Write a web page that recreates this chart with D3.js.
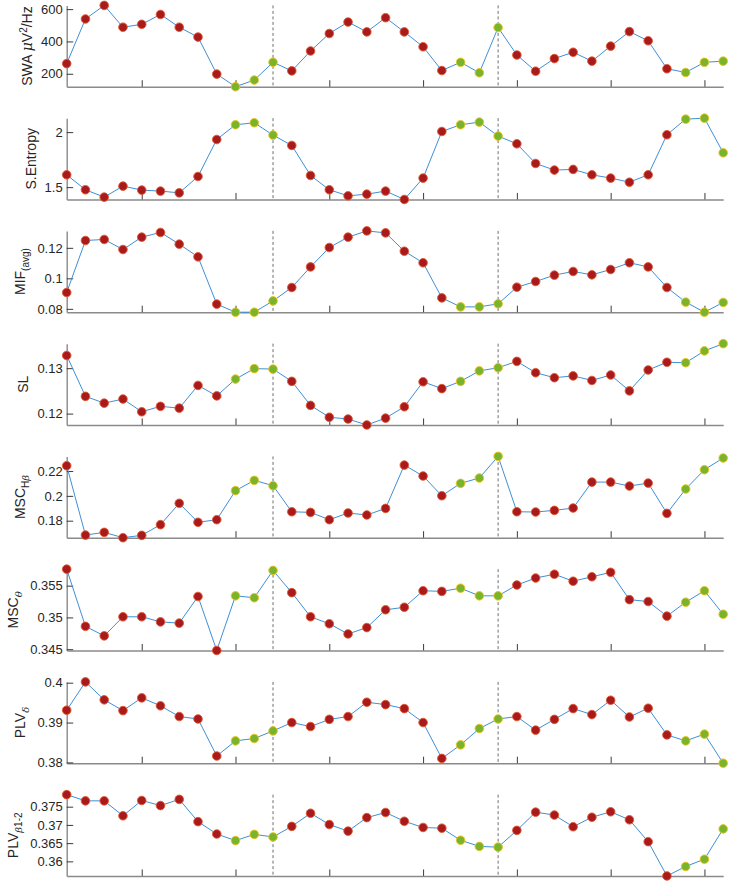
<!DOCTYPE html>
<html>
<head>
<meta charset="utf-8">
<script src="https://cdn.jsdelivr.net/npm/d3@7"></script>
<style>
  body { margin: 0; background: #fff; }
  svg { display: block; }
  text { font-family: "Liberation Sans", Arial, Helvetica, sans-serif; }
</style>
</head>
<body>
<svg id="chart"></svg>
<script>
(function () {
  'use strict';

  // epochs along the x axis
  const epochs = [1,2,3,4,5,6,7,8,9,10,11,12,13,14,15,16,17,18,19,20,21,22,23,24,25,26,27,28,29,30,31,32,33,34,35,36];
  const greenEpochs = [10,11,12,22,23,24,34,35,36];
  const dashedAt = [12, 24];
  const xTicks = [5,10,15,20,25,30,35];

  const swa = [263,539,623,488,506,567,488,427,198,120,161,271,218,341,449,520,459,547,459,367,220,271,206,486,316,216,294,333,278,371,461,404,231,208,271,278];
  const sEntropy = [1.612,1.476,1.409,1.509,1.473,1.464,1.448,1.597,1.933,2.067,2.085,1.973,1.879,1.606,1.476,1.421,1.436,1.464,1.388,1.582,2.006,2.067,2.091,1.964,1.894,1.715,1.655,1.661,1.612,1.582,1.545,1.612,1.976,2.118,2.127,1.812];
  const mif = [0.0907,0.1248,0.1255,0.1189,0.1270,0.1301,0.1224,0.1141,0.0831,0.0778,0.0778,0.0852,0.0940,0.1075,0.1202,0.1270,0.1311,0.1298,0.1178,0.1102,0.0872,0.0813,0.0813,0.0833,0.0942,0.0979,0.1021,0.1045,0.1023,0.1058,0.1102,0.1075,0.0940,0.0844,0.0778,0.0842];
  const sl = [0.1328,0.1238,0.1223,0.1232,0.1204,0.1216,0.1212,0.1262,0.1239,0.1276,0.1299,0.1298,0.1271,0.1218,0.1192,0.1188,0.1175,0.1190,0.1215,0.1270,0.1255,0.1271,0.1294,0.1301,0.1315,0.1290,0.1279,0.1283,0.1273,0.1285,0.1250,0.1296,0.1313,0.1312,0.1338,0.1354];
  const mscHb = [0.2243,0.1684,0.1706,0.1663,0.1682,0.1768,0.1940,0.1787,0.1808,0.2042,0.2125,0.2082,0.1872,0.1867,0.1808,0.1862,0.1846,0.1899,0.2248,0.2160,0.2001,0.2101,0.2144,0.2318,0.1872,0.1870,0.1883,0.1902,0.2111,0.2111,0.2079,0.2103,0.1859,0.2055,0.2211,0.2305];
  const mscTheta = [0.3576,0.3486,0.3471,0.3501,0.3501,0.3493,0.3491,0.3533,0.3448,0.3534,0.3531,0.3574,0.3539,0.3501,0.3490,0.3474,0.3484,0.3512,0.3516,0.3542,0.3541,0.3546,0.3534,0.3534,0.3551,0.3562,0.3568,0.3557,0.3564,0.3571,0.3528,0.3525,0.3502,0.3524,0.3542,0.3505];
  const plvDelta = [0.3931,0.4002,0.3957,0.3930,0.3962,0.3942,0.3915,0.3909,0.3816,0.3854,0.3860,0.3879,0.3900,0.3890,0.3908,0.3915,0.3951,0.3945,0.3935,0.3900,0.3810,0.3844,0.3885,0.3909,0.3915,0.3881,0.3908,0.3935,0.3920,0.3956,0.3914,0.3936,0.3869,0.3854,0.3871,0.3798];
  const plvBeta = [0.3783,0.3766,0.3766,0.3725,0.3767,0.3753,0.3770,0.3709,0.3675,0.3657,0.3674,0.3667,0.3696,0.3732,0.3701,0.3683,0.3720,0.3734,0.3710,0.3693,0.3691,0.3658,0.3641,0.3639,0.3685,0.3735,0.3727,0.3695,0.3721,0.3736,0.3714,0.3654,0.3560,0.3586,0.3606,0.3689];

  const yTicks = [
    [200,400,600], [1.5,2], [0.08,0.1,0.12], [0.12,0.13],
    [0.18,0.2,0.22], [0.345,0.35,0.355], [0.38,0.39,0.4], [0.36,0.365,0.37,0.375]
  ];

  // label pieces: [text, kind]  kind: '' normal, 'i' italic, 'sup', 'sub', 'subi'
  const yLabels = [
    [['SWA ',''],['\u03bc','i'],['V',''],['2','sup'],['/Hz','']],
    [['S.Entropy','']],
    [['MIF',''],['(avg)','sub']],
    [['SL','']],
    [['MSC',''],['H','sub'],['\u03b2','subi']],
    [['MSC',''],['\u03b8','subi']],
    [['PLV',''],['\u03b4','subi']],
    [['PLV',''],['\u03b2','subi'],['1-2','sub']]
  ];

  const series = [swa, sEntropy, mif, sl, mscHb, mscTheta, plvDelta, plvBeta];

  const W = 729, H = 883;
  const left = 66.7, right = 723.2;
  const top0 = 5.4, pitch = 112.75, ph = 81.3;
  const fontSize = 13;

  const red = '#a81a1c', redEdge = '#e2582f';
  const green = '#78b52c', greenEdge = '#efc21e';
  const lineColor = '#3f8fd8';

  const svg = d3.select('#chart')
    .attr('width', W)
    .attr('height', H);

  const x = d3.scaleLinear()
    .domain([1, 36])
    .range([left, right]);

  series.forEach((vals, i) => {
    const top = top0 + pitch * i;
    const y = d3.scaleLinear()
      .domain(d3.extent(vals))
      .range([top + ph, top]);

    const g = svg.append('g');

    // dashed separators
    g.selectAll('.sep')
      .data(dashedAt)
      .enter()
      .append('line')
        .attr('x1', d => x(d)).attr('x2', d => x(d))
        .attr('y1', top).attr('y2', top + ph)
        .attr('stroke', '#6f6f6f')
        .attr('stroke-width', 1)
        .attr('stroke-dasharray', '3,2.5');

    // x axis, ticks pointing inwards, no labels
    const xa = g.append('g')
      .attr('transform', `translate(0,${top + ph})`)
      .call(d3.axisTop(x).tickValues(xTicks).tickSize(6.5).tickFormat('').tickSizeOuter(0));
    xa.select('.domain').attr('stroke', '#8a8a8a').attr('stroke-width', 1.6);
    xa.selectAll('.tick line').attr('stroke', '#3a3a3a').attr('stroke-width', 1);

    // y axis, ticks inwards
    const ya = g.append('g')
      .attr('transform', `translate(${left},0)`)
      .call(d3.axisRight(y).tickValues(yTicks[i]).tickSize(6.5).tickSizeOuter(0).tickFormat(d => String(d)));
    ya.select('.domain').attr('stroke', '#8a8a8a').attr('stroke-width', 1.4);
    ya.selectAll('.tick line').attr('stroke', '#3a3a3a').attr('stroke-width', 1);
    ya.selectAll('.tick text')
      .attr('x', -4)
      .attr('text-anchor', 'end')
      .attr('fill', '#262626')
      .style('font-size', fontSize + 'px')
      .style('font-family', '"Liberation Sans", Arial, sans-serif');

    // line
    const line = d3.line()
      .x((d, k) => x(epochs[k]))
      .y(d => y(d));
    g.append('path')
      .datum(vals)
      .attr('fill', 'none')
      .attr('stroke', lineColor)
      .attr('stroke-width', 1)
      .attr('d', line);

    // markers
    g.selectAll('circle')
      .data(vals)
      .enter()
      .append('circle')
        .attr('cx', (d, k) => x(epochs[k]))
        .attr('cy', d => y(d))
        .attr('r', 4.3)
        .attr('fill', (d, k) => greenEpochs.includes(epochs[k]) ? green : red)
        .attr('stroke', (d, k) => greenEpochs.includes(epochs[k]) ? greenEdge : redEdge)
        .attr('stroke-width', 0.9);

    // y label
    let tickLeft = left;
    ya.selectAll('.tick text').each(function () {
      const b = this.getBBox();
      const tr = this.parentNode.getAttribute('transform');
      tickLeft = Math.min(tickLeft, left + b.x);
    });

    const lab = g.append('g');
    const txt = lab.append('text')
      .attr('text-anchor', 'middle')
      .attr('fill', '#262626')
      .style('font-size', (fontSize + 1) + 'px');
    let shift = 0;
    yLabels[i].forEach(([t, kind]) => {
      let want = 0;
      if (kind === 'sup') want = -5;
      if (kind === 'sub' || kind === 'subi') want = 4;
      const ts = txt.append('tspan')
        .attr('dy', want - shift)
        .text(t);
      shift = want;
      if (kind === 'i' || kind === 'subi') ts.style('font-style', 'italic').style('font-family', '"DejaVu Serif", "Liberation Serif", serif');
      if (kind !== '' && kind !== 'i') ts.style('font-size', (fontSize - 3) + 'px');
    });
    const bb = txt.node().getBBox();
    const tx = tickLeft - 6 - (bb.y + bb.height);
    lab.attr('transform', `translate(${tx},${top + ph / 2}) rotate(-90)`);
  });
}());
</script>
</body>
</html>
